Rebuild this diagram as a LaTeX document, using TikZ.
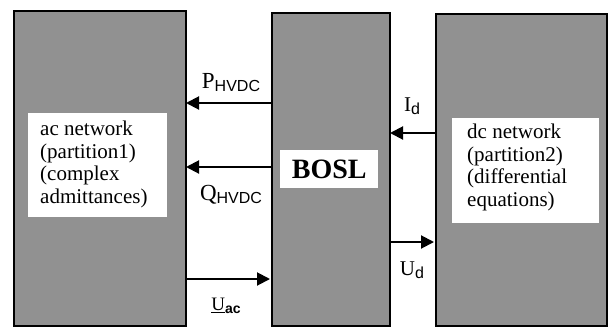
\documentclass[tikz,border=0pt]{standalone}
\usepackage{fontspec}
\setmainfont{Liberation Serif}
\setsansfont{Liberation Sans}
\usetikzlibrary{arrows.meta}
\definecolor{halftone}{RGB}{145,145,145}
\tikzset{
  x=1pt,y=1pt,
  graybox/.style={draw=black,line width=2.2pt,fill=halftone,anchor=north west,inner sep=0pt},
  whitebox/.style={fill=white,draw=none,anchor=north west,inner sep=0pt},
  labeltext/.style={font=\fontsize{21}{22.5}\selectfont,align=left,anchor=north west,inner sep=0pt},
  flow/.style={line width=2pt,-{Triangle[length=13pt,width=13pt]}},
  sig/.style={inner sep=0pt,font=\fontsize{23}{23}\selectfont}
}
\newcommand{\subsf}[2]{{\sffamily\fontsize{#1}{#1}\selectfont\raisebox{-3pt}{#2}}}
\begin{document}
\begin{tikzpicture}
\useasboundingbox (0,0) rectangle (610,-327);
% outer boxes
\node[graybox,minimum width=172,minimum height=315] (acbox) at (13,-10) {};
\node[graybox,minimum width=118,minimum height=313] (mid) at (271,-12) {};
\node[graybox,minimum width=171,minimum height=312] (dcbox) at (435,-13) {};
% white label areas
\node[whitebox,minimum width=139,minimum height=104] (acw) at (28,-113) {};
\node[whitebox,minimum width=98,minimum height=38] (boslw) at (280,-150) {};
\node[whitebox,minimum width=147,minimum height=105] (dcw) at (452,-118) {};
% texts
\node[labeltext] (actext) at (40,-121) {ac network\\(partition1)\\(complex\\admittances)};
\node[font=\fontsize{28}{28}\selectfont\bfseries,inner sep=0pt] (bosl) at (boslw.center) {BOSL};
\node[labeltext] (dctext) at (467,-124) {dc network\\(partition2)\\(differential\\equations)};
% coordinates on box edges
\coordinate (pS) at (271,-103); \coordinate (pE) at (186,-103);
\coordinate (qS) at (271,-167); \coordinate (qE) at (186,-167);
\coordinate (uS) at (185,-279); \coordinate (uE) at (270,-279);
\coordinate (iS) at (435,-133); \coordinate (iE) at (390,-133);
\coordinate (dS) at (389,-242); \coordinate (dE) at (434,-242);
\draw[flow] (pS) -- (pE);
\draw[flow] (qS) -- (qE);
\draw[flow] (uS) -- (uE);
\draw[flow] (iS) -- (iE);
\draw[flow] (dS) -- (dE);
% signal labels
\node[sig] (plab) at (231,-83) {P\subsf{16}{HVDC}};
\node[sig] (qlab) at (231,-195) {Q\subsf{16}{HVDC}};
\node[sig,font=\fontsize{19}{19}\selectfont] (ualab) at (226,-306) {\underline{U}\subsf{14}{\bfseries ac}};
\node[sig,font=\fontsize{21}{21}\selectfont] (idlab) at (412,-106) {I\subsf{16}{d}};
\node[sig,font=\fontsize{21}{21}\selectfont] (udlab) at (412,-270) {U\subsf{16}{d}};
\end{tikzpicture}
\end{document}
